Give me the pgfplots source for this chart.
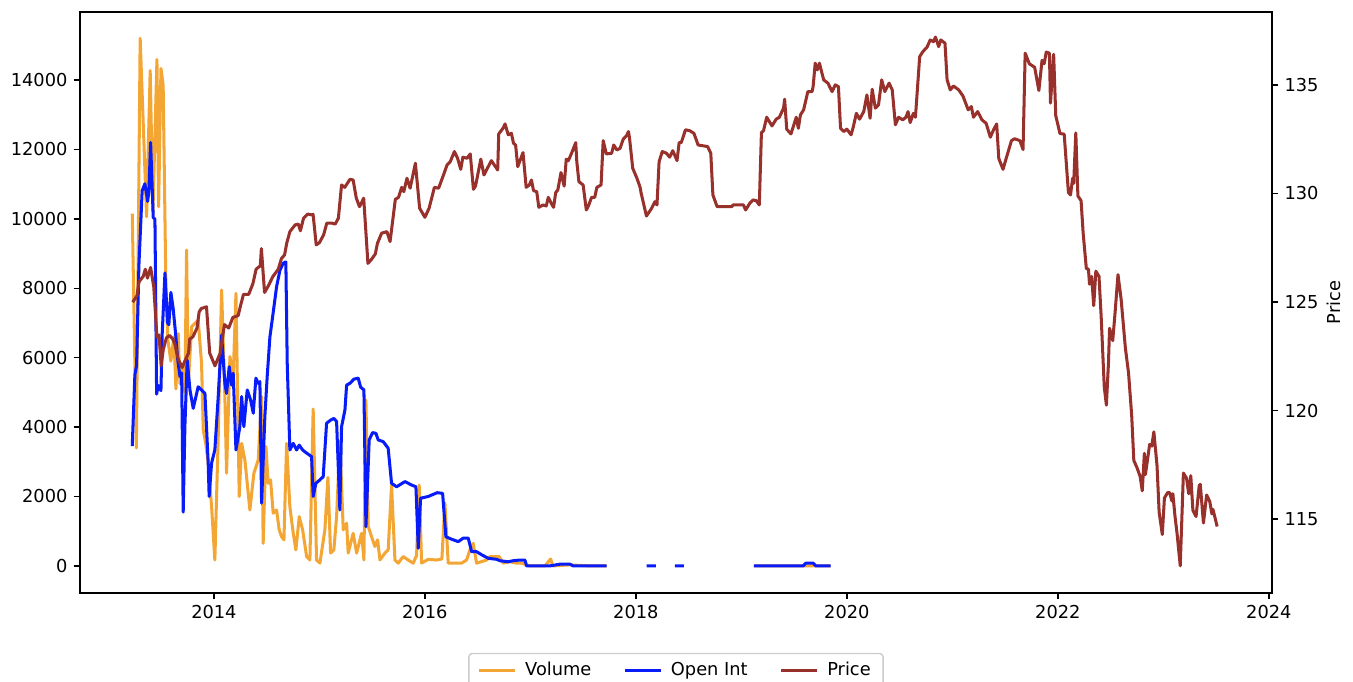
\documentclass[border=0pt]{standalone}
\usepackage{fontspec}
\setmainfont{DejaVu Sans}
\usepackage{pgfplots}
\usepackage{pgfplotstable}
\pgfplotsset{compat=1.18}
\definecolor{cvol}{RGB}{243,166,52}
\definecolor{coi}{RGB}{8,28,250}
\definecolor{cprice}{RGB}{152,48,44}
\definecolor{legframe}{RGB}{204,204,204}

\pgfplotstableread{
x y
2013.226 10150
2013.265 3400
2013.301 15200
2013.362 10060
2013.396 14270
2013.422 10200
2013.460 14590
2013.476 10350
2013.498 14330
2013.519 13850
2013.545 8000
2013.564 6500
2013.592 5900
2013.621 6600
2013.640 5100
2013.662 6690
2013.678 5250
2013.701 5800
2013.725 5000
2013.741 9100
2013.758 5300
2013.789 6890
2013.820 6990
2013.851 7080
2013.883 5840
2013.899 3920
2013.924 3500
2013.946 2960
2013.978 1710
2014.009 170
2014.041 3720
2014.073 7950
2014.104 4880
2014.120 2670
2014.152 6030
2014.183 5450
2014.209 7850
2014.240 2000
2014.263 3530
2014.294 3050
2014.341 1610
2014.379 2670
2014.420 3050
2014.452 4880
2014.467 650
2014.493 3440
2014.515 2380
2014.537 2480
2014.562 1520
2014.594 1610
2014.619 1040
2014.642 840
2014.664 750
2014.689 3530
2014.720 1710
2014.752 940
2014.777 460
2014.809 1420
2014.841 1040
2014.879 270
2014.910 170
2014.941 4520
2014.973 170
2015.005 80
2015.052 1040
2015.081 2550
2015.106 370
2015.137 460
2015.163 1420
2015.194 3600
2015.226 1040
2015.258 1230
2015.273 370
2015.289 560
2015.320 940
2015.353 370
2015.400 940
2015.422 170
2015.441 4780
2015.463 1130
2015.495 840
2015.526 560
2015.552 750
2015.574 170
2015.621 370
2015.652 460
2015.684 2330
2015.716 170
2015.747 80
2015.794 270
2015.842 170
2015.889 80
2015.921 300
2015.946 2330
2015.969 80
2016.031 190
2016.111 170
2016.161 200
2016.190 1810
2016.221 80
2016.284 80
2016.348 80
2016.395 170
2016.427 460
2016.458 650
2016.490 80
2016.585 170
2016.616 270
2016.704 270
2016.742 80
2016.806 120
2016.869 80
2016.917 80
2016.995 0
2017.138 0
2017.192 200
2017.213 0
2017.375 30
2017.564 0
2017.722 0
nan nan
2019.119 0
2019.555 0
2019.846 0
}\voldata

\pgfplotstableread{
x y
2013.226 3450
2013.251 5510
2013.267 5770
2013.289 8650
2013.320 10810
2013.346 11010
2013.372 10500
2013.384 10810
2013.400 12200
2013.425 10040
2013.441 9990
2013.457 4950
2013.472 5200
2013.498 5050
2013.510 6690
2013.536 8440
2013.561 7000
2013.573 6950
2013.592 7880
2013.614 7410
2013.637 6690
2013.656 5970
2013.678 5460
2013.694 5560
2013.709 1550
2013.725 4020
2013.747 5930
2013.773 5070
2013.804 4540
2013.851 5160
2013.883 5070
2013.915 4970
2013.946 2960
2013.955 2000
2013.978 2960
2014.009 3340
2014.041 4880
2014.073 6650
2014.104 5260
2014.120 4970
2014.145 5740
2014.168 5210
2014.183 5550
2014.209 3340
2014.246 4010
2014.263 4880
2014.284 4010
2014.316 5070
2014.348 4780
2014.373 4400
2014.398 5410
2014.420 5260
2014.436 5310
2014.452 1810
2014.483 4300
2014.505 5450
2014.531 6600
2014.556 7160
2014.594 8040
2014.626 8520
2014.657 8720
2014.682 8760
2014.695 5840
2014.720 3340
2014.752 3530
2014.784 3340
2014.809 3480
2014.841 3340
2014.879 3250
2014.926 3150
2014.941 2000
2014.967 2380
2015.005 2480
2015.036 2570
2015.068 4110
2015.106 4200
2015.137 4250
2015.163 4160
2015.194 1610
2015.210 4010
2015.242 4490
2015.258 5210
2015.289 5260
2015.327 5380
2015.368 5410
2015.391 5150
2015.422 5070
2015.441 1130
2015.472 3630
2015.504 3840
2015.536 3820
2015.557 3630
2015.605 3580
2015.652 3390
2015.684 2380
2015.732 2280
2015.811 2430
2015.874 2330
2015.915 2280
2015.937 510
2015.959 1950
2016.031 2000
2016.117 2110
2016.168 2090
2016.199 840
2016.253 770
2016.316 700
2016.363 800
2016.411 800
2016.443 410
2016.490 410
2016.538 320
2016.600 220
2016.680 190
2016.711 150
2016.790 120
2016.837 150
2016.901 170
2016.948 170
2016.964 0
2017.185 0
2017.280 50
2017.375 50
2017.406 0
2017.722 0
nan nan
2018.102 0
2018.190 0
nan nan
2018.370 0
2018.455 0
nan nan
2019.119 0
2019.586 0
2019.612 80
2019.681 80
2019.706 0
2019.846 0
}\oidata

\pgfplotstableread{
x y
2013.23 124.99
2013.27 125.28
2013.29 125.93
2013.33 126.18
2013.35 126.51
2013.37 126.10
2013.40 126.59
2013.43 125.69
2013.46 123.39
2013.48 123.48
2013.50 122.06
2013.52 122.81
2013.55 123.35
2013.58 123.46
2013.61 123.29
2013.63 123.06
2013.66 122.39
2013.70 121.98
2013.72 122.23
2013.76 122.65
2013.77 123.29
2013.80 123.39
2013.84 123.80
2013.86 124.54
2013.88 124.70
2013.93 124.78
2013.96 122.65
2014.01 122.06
2014.06 122.65
2014.10 123.96
2014.14 123.80
2014.18 124.29
2014.23 124.37
2014.25 124.78
2014.28 125.35
2014.33 125.35
2014.37 125.85
2014.40 126.51
2014.44 126.67
2014.45 127.46
2014.48 125.44
2014.51 125.69
2014.56 126.18
2014.61 126.51
2014.64 127.00
2014.67 127.17
2014.69 127.70
2014.72 128.24
2014.77 128.55
2014.80 128.59
2014.82 128.28
2014.85 128.86
2014.89 129.05
2014.93 129.01
2014.94 129.04
2014.97 127.63
2015.00 127.73
2015.04 128.09
2015.07 128.63
2015.12 128.63
2015.15 128.59
2015.18 128.86
2015.21 130.39
2015.24 130.28
2015.29 130.65
2015.32 130.62
2015.35 129.78
2015.38 129.39
2015.42 129.78
2015.46 126.78
2015.49 126.94
2015.53 127.21
2015.55 127.70
2015.59 128.17
2015.64 128.24
2015.67 127.78
2015.72 129.73
2015.75 129.82
2015.78 130.28
2015.80 130.08
2015.83 130.70
2015.86 130.24
2015.91 131.39
2015.95 129.32
2016.00 128.90
2016.04 129.32
2016.09 130.28
2016.13 130.24
2016.18 130.90
2016.21 131.31
2016.24 131.46
2016.28 131.93
2016.31 131.62
2016.34 131.11
2016.36 131.67
2016.40 131.62
2016.43 131.82
2016.46 130.19
2016.48 130.34
2016.53 131.58
2016.56 130.85
2016.60 131.23
2016.63 131.51
2016.69 131.08
2016.70 132.74
2016.74 133.00
2016.76 133.20
2016.79 132.70
2016.82 132.77
2016.84 132.31
2016.86 132.23
2016.88 131.23
2016.91 131.62
2016.93 131.88
2016.96 130.28
2016.99 130.39
2017.01 130.62
2017.03 130.13
2017.06 130.08
2017.08 129.36
2017.12 129.47
2017.15 129.42
2017.17 129.82
2017.20 129.52
2017.22 129.36
2017.24 130.04
2017.26 130.16
2017.29 130.96
2017.32 130.34
2017.34 131.58
2017.36 131.51
2017.39 131.85
2017.43 132.34
2017.44 131.46
2017.46 130.54
2017.50 130.39
2017.53 129.24
2017.55 129.42
2017.58 129.82
2017.61 129.82
2017.63 130.28
2017.67 130.39
2017.69 132.43
2017.72 131.82
2017.77 131.85
2017.79 132.23
2017.82 132.00
2017.85 132.08
2017.88 132.50
2017.91 132.65
2017.93 132.85
2017.94 132.54
2017.97 131.16
2018.01 130.70
2018.04 130.28
2018.05 130.01
2018.10 128.96
2018.15 129.32
2018.18 129.62
2018.20 129.47
2018.22 131.46
2018.25 131.93
2018.29 131.85
2018.32 131.67
2018.35 131.97
2018.39 131.51
2018.41 132.34
2018.43 132.34
2018.47 132.93
2018.51 132.89
2018.55 132.77
2018.59 132.23
2018.68 132.16
2018.71 131.85
2018.73 129.93
2018.77 129.39
2018.91 129.39
2018.92 129.47
2019.02 129.47
2019.04 129.24
2019.08 129.55
2019.11 129.70
2019.14 129.67
2019.17 129.47
2019.19 132.80
2019.21 132.89
2019.24 133.51
2019.29 133.11
2019.33 133.42
2019.36 133.51
2019.40 133.93
2019.41 134.34
2019.43 132.96
2019.47 132.74
2019.52 133.51
2019.54 133.00
2019.56 133.62
2019.59 133.85
2019.63 134.69
2019.67 134.69
2019.68 134.92
2019.70 136.00
2019.72 135.69
2019.74 136.00
2019.78 135.23
2019.82 135.08
2019.86 134.69
2019.89 135.00
2019.92 134.92
2019.94 133.00
2019.97 132.85
2020.00 132.96
2020.04 132.70
2020.06 133.05
2020.09 133.69
2020.12 133.42
2020.16 133.77
2020.19 134.54
2020.22 133.46
2020.24 134.80
2020.27 133.93
2020.30 134.08
2020.33 135.23
2020.36 134.69
2020.40 135.08
2020.43 134.77
2020.46 133.16
2020.49 133.51
2020.53 133.39
2020.56 133.51
2020.58 133.77
2020.60 133.26
2020.63 133.69
2020.65 133.51
2020.69 136.30
2020.72 136.53
2020.76 136.74
2020.79 137.07
2020.82 136.99
2020.84 137.20
2020.87 136.76
2020.89 137.07
2020.93 136.92
2020.95 135.23
2020.98 134.77
2021.01 134.95
2021.06 134.77
2021.10 134.49
2021.15 133.85
2021.18 134.00
2021.20 133.51
2021.24 133.77
2021.28 133.39
2021.32 133.23
2021.36 132.59
2021.39 132.93
2021.42 133.20
2021.44 131.61
2021.48 131.11
2021.51 131.61
2021.56 132.43
2021.59 132.52
2021.64 132.43
2021.67 132.02
2021.69 136.46
2021.73 135.97
2021.78 135.81
2021.82 134.74
2021.85 136.13
2021.87 135.97
2021.89 136.51
2021.92 136.46
2021.93 134.16
2021.96 136.41
2021.98 133.58
2022.02 132.76
2022.06 132.73
2022.10 130.05
2022.12 129.93
2022.14 130.70
2022.15 130.46
2022.17 132.79
2022.19 129.88
2022.22 129.67
2022.24 128.15
2022.27 126.54
2022.29 126.51
2022.30 125.82
2022.32 126.18
2022.34 124.83
2022.36 126.42
2022.39 126.18
2022.41 124.37
2022.44 121.08
2022.46 120.25
2022.48 122.23
2022.49 123.79
2022.52 123.22
2022.54 124.37
2022.57 126.26
2022.60 125.11
2022.64 122.88
2022.67 121.73
2022.70 119.76
2022.72 117.70
2022.75 117.37
2022.78 116.96
2022.80 116.30
2022.82 118.03
2022.83 117.05
2022.87 118.44
2022.89 118.36
2022.91 119.02
2022.94 117.46
2022.96 115.32
2022.99 114.29
2023.01 115.97
2023.04 116.22
2023.06 116.22
2023.08 115.84
2023.09 116.17
2023.11 115.15
2023.13 114.33
2023.16 112.85
2023.19 117.12
2023.22 116.88
2023.24 116.17
2023.26 117.00
2023.28 115.40
2023.31 115.12
2023.34 116.55
2023.35 116.60
2023.38 114.82
2023.41 116.11
2023.44 115.81
2023.46 115.24
2023.47 115.45
2023.51 114.66
}\pricedata

\begin{document}
\fontsize{10}{12}\selectfont
\begin{tikzpicture}
\pgfplotsset{
  common/.style={
    scale only axis, width=669.7pt, height=326.4pt,
    xmin=2012.73, xmax=2024.03,
    tick align=outside, major tick length=3.5pt,
    every tick/.style={black, line width=0.8pt},
    axis line style={line width=0.8pt, black},
    /pgf/number format/assume math mode=true,
    /pgf/number format/1000 sep={},
    tick label style={font=\fontsize{10}{12}\selectfont},
    label style={font=\fontsize{10}{12}\selectfont},
    scaled ticks=false,
  }
}
\begin{axis}[common, ymin=-778, ymax=15960,
  xtick={2014,2016,...,2024}, ytick={0,2000,...,14000},
  xtick pos=left, ytick pos=left,
  unbounded coords=jump]
\addplot[cvol, line width=1.7pt, line join=round] table {\voldata};
\addplot[coi, line width=1.7pt, line join=round] table {\oidata};
\end{axis}
\begin{axis}[common, ymin=111.6, ymax=138.36,
  axis y line*=right, axis x line=none,
  ytick={115,120,...,135}, ylabel={Price},
  ylabel style={xshift=0pt, yshift=2pt},
  legend columns=3,
  legend style={at={(0.5,-0.103)}, anchor=north, draw=legframe,
    rounded corners=2pt, line width=0.8pt,
    font=\fontsize{10}{12}\selectfont, inner xsep=5pt, inner ysep=3pt,
    /tikz/every odd column/.append style={column sep=3pt},
    /tikz/every even column/.append style={column sep=16pt}},
  legend image code/.code={\draw[#1] (0pt,0pt) -- (20pt,0pt);}]
\addlegendimage{cvol, line width=1.7pt}\addlegendentry{Volume}
\addlegendimage{coi, line width=1.7pt}\addlegendentry{Open Int}
\addplot[cprice, line width=1.7pt, line join=round] table {\pricedata};
\addlegendentry{Price}
\end{axis}
\pgfresetboundingbox
\path (-44.9pt,-50pt) rectangle (715.2pt,333.1pt);
\end{tikzpicture}
\end{document}
